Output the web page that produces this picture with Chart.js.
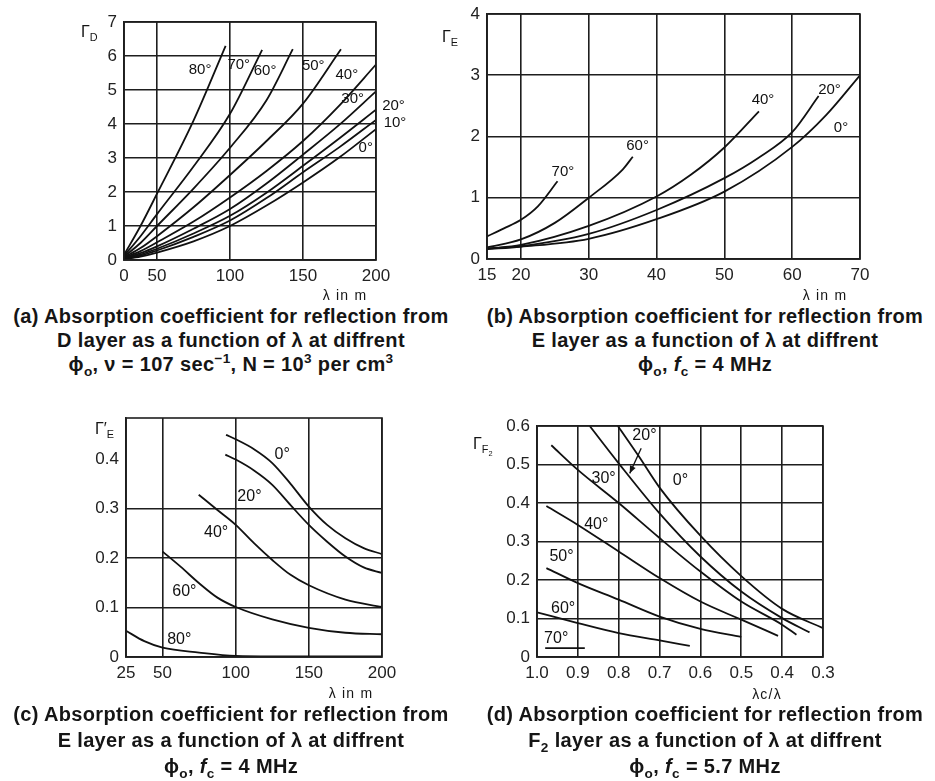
<!DOCTYPE html>
<html>
<head>
<meta charset="utf-8">
<script src="https://cdn.jsdelivr.net/npm/chart.js@4.4.0/dist/chart.umd.min.js"></script>
<style>
  body { margin: 0; background: #fff; width: 935px; height: 781px; position: relative; overflow: hidden;
         font-family: "Liberation Sans", Arial, sans-serif; color: #151515; }
  canvas { position: absolute; }
  .cap { position: absolute; width: 500px; text-align: center; font-weight: bold; font-size: 20px;
         letter-spacing: 0.35px; white-space: nowrap; }
  .top { top: 304px; line-height: 24px; }
  .bot { top: 701px; line-height: 26px; }
  .lab { position: absolute; white-space: nowrap; line-height: 16px; }
  .gam { font-size: 16px; }
  .xt { font-size: 14px; letter-spacing: 1.2px; transform: translateX(-50%); }
  sub, sup { font-size: 68%; line-height: 0; }
</style>
</head>
<body>
<canvas id="pa"></canvas>
<canvas id="pb"></canvas>
<canvas id="pc"></canvas>
<canvas id="pd"></canvas>

<div class="lab gam" style="left:81px;top:24px">Γ<sub>D</sub></div>
<div class="lab gam" style="left:442px;top:29px">Γ<sub>E</sub></div>
<div class="lab gam" style="left:95px;top:421px">Γ′<sub>E</sub></div>
<div class="lab gam" style="left:473px;top:436px">Γ<sub>F<sub>2</sub></sub></div>

<div class="lab xt" style="left:345px;top:287px">λ in m</div>
<div class="lab xt" style="left:825px;top:287px">λ in m</div>
<div class="lab xt" style="left:351px;top:685px">λ in m</div>
<div class="lab xt" style="left:767px;top:686px">λc/λ</div>

<div class="cap top" style="left:-19px">(a) Absorption coefficient for reflection from<br>D layer as a function of λ at diffrent<br>ϕ<sub>o</sub>, ν = 107 sec<sup>−1</sup>, N = 10<sup>3</sup> per cm<sup>3</sup></div>
<div class="cap top" style="left:455px">(b) Absorption coefficient for reflection from<br>E layer as a function of λ at diffrent<br>ϕ<sub>o</sub>, <i>f</i><sub>c</sub> = 4 MHz</div>
<div class="cap bot" style="left:-19px">(c) Absorption coefficient for reflection from<br>E layer as a function of λ at diffrent<br>ϕ<sub>o</sub>, <i>f</i><sub>c</sub> = 4 MHz</div>
<div class="cap bot" style="left:455px">(d) Absorption coefficient for reflection from<br>F<sub>2</sub> layer as a function of λ at diffrent<br>ϕ<sub>o</sub>, <i>f</i><sub>c</sub> = 5.7 MHz</div>

<script>
// (a) D layer, Γ_D against λ (m) for each angle
const aTicksX = [0, 50, 100, 150, 200];
const aTicksY = [0, 1, 2, 3, 4, 5, 6, 7];
const a0  = [[0,0.02],[25,0.1],[50,0.22],[75,0.55],[100,1.0],[125,1.6],[150,2.28],[175,3.02],[200,3.85]];
const a10 = [[0,0.03],[25,0.13],[50,0.28],[75,0.68],[100,1.16],[125,1.82],[150,2.58],[175,3.32],[200,4.12]];
const a20 = [[0,0.04],[25,0.16],[50,0.33],[75,0.78],[100,1.3],[125,1.98],[150,2.77],[175,3.58],[200,4.42]];
const a30 = [[0,0.05],[25,0.2],[50,0.4],[75,0.92],[100,1.5],[125,2.25],[150,3.1],[175,3.98],[200,4.96]];
const a40 = [[0,0.07],[25,0.26],[50,0.52],[75,1.13],[100,1.84],[125,2.62],[150,3.5],[175,4.55],[200,5.75]];
const a50 = [[0,0.08],[25,0.35],[50,0.7],[75,1.55],[100,2.5],[125,3.5],[150,4.6],[176,6.2]];
const a60 = [[0,0.1],[25,0.5],[50,1.0],[75,2.1],[100,3.3],[125,4.7],[143,6.2]];
const a70 = [[0,0.12],[25,0.7],[50,1.35],[75,2.75],[100,4.3],[122,6.18]];
const a80 = [[0,0.15],[25,1.0],[50,1.95],[75,4.1],[97,6.3]];
const aLabels = [['80°',79.5,5.6],['70°',106,5.75],['60°',124,5.56],['50°',157,5.7],['40°',180,5.46],
                 ['30°',184,4.73],['20°',212,4.53],['10°',213,4.04],['0°',193,3.3]];

// (b) E layer, Γ_E against λ (m)
const bTicksX = [15, 20, 30, 40, 50, 60, 70];
const bTicksY = [0, 1, 2, 3, 4];
const b0  = [[15,0.16],[20,0.2],[30,0.33],[40,0.65],[50,1.1],[60,1.83],[65,2.35],[70,3.0]];
const b20 = [[15,0.17],[20,0.21],[30,0.41],[40,0.8],[50,1.32],[55,1.65],[60,2.07],[63.9,2.66]];
const b40 = [[15,0.17],[20,0.23],[30,0.54],[40,1.02],[45,1.37],[50,1.82],[55.1,2.41]];
const b60 = [[15,0.19],[20,0.32],[25,0.59],[30,1.0],[35,1.46],[36.5,1.67]];
const b70 = [[15,0.37],[17.5,0.5],[20,0.64],[22.5,0.86],[25.4,1.27]];
const bLabels = [['70°',26.2,1.43],['60°',37.2,1.84],['40°',55.7,2.6],['20°',65.5,2.76],['0°',67.2,2.14]];

// (c) E layer, Γ'_E against λ (m)
const cTicksX = [25, 50, 100, 150, 200];
const cTicksY = [0, 0.1, 0.2, 0.3, 0.4];
const c0  = [[93.4,0.449],[100,0.44],[112.5,0.42],[125,0.392],[137.5,0.35],[150,0.304],[162.5,0.267],[175,0.24],[187.5,0.22],[200,0.208]];
const c20 = [[92.9,0.409],[100,0.399],[112.5,0.377],[125,0.348],[137.5,0.307],[150,0.267],[162.5,0.233],[175,0.203],[187.5,0.181],[200,0.17]];
const c40 = [[74.7,0.328],[87.5,0.297],[100,0.267],[112.5,0.23],[125,0.196],[137.5,0.166],[150,0.145],[175,0.116],[200,0.101]];
const c60 = [[50,0.213],[62.5,0.182],[75,0.149],[87.5,0.12],[100,0.101],[125,0.076],[150,0.059],[175,0.049],[200,0.046]];
const c80 = [[25,0.053],[37.5,0.032],[50,0.019],[75,0.009],[100,0.002],[125,0.001],[200,0.001]];
const cLabels = [['0°',131.8,0.409],['20°',109.4,0.324],['40°',86.6,0.251],['60°',64.9,0.132],['80°',61.4,0.035]];

// (d) F2 layer, Γ_F2 against λc/λ (axis runs 1.0 -> 0.3)
const dTicksX = [1.0, 0.9, 0.8, 0.7, 0.6, 0.5, 0.4, 0.3];
const dTicksY = [0, 0.1, 0.2, 0.3, 0.4, 0.5, 0.6];
const d0  = [[0.802,0.6],[0.75,0.52],[0.7,0.44],[0.6,0.315],[0.5,0.21],[0.4,0.125],[0.3,0.075]];
const d20 = [[0.871,0.6],[0.8,0.503],[0.7,0.373],[0.6,0.261],[0.5,0.17],[0.4,0.101],[0.333,0.064]];
const d30 = [[0.965,0.55],[0.9,0.486],[0.8,0.4],[0.7,0.309],[0.6,0.222],[0.5,0.144],[0.4,0.084],[0.365,0.058]];
const d40 = [[0.977,0.392],[0.9,0.343],[0.8,0.274],[0.7,0.205],[0.6,0.144],[0.5,0.097],[0.41,0.055]];
const d50 = [[0.977,0.231],[0.9,0.192],[0.8,0.149],[0.7,0.105],[0.6,0.073],[0.5,0.052]];
const d60 = [[1.0,0.116],[0.9,0.088],[0.8,0.062],[0.7,0.043],[0.626,0.029]];
const d70 = [[0.98,0.023],[0.883,0.023]];
const dLabels = [['20°',0.737,0.576],['30°',0.837,0.464],['0°',0.649,0.458],['40°',0.855,0.343],
                 ['50°',0.94,0.261],['60°',0.936,0.127],['70°',0.953,0.049]];
const dArrow = [0.745,0.542,0.773,0.477];

const INK = '#111';
const GRID = '#1e1e1e';
const TICK = '#222';
const PAD = { l: 60, t: 15, r: 30, b: 40 };
Chart.defaults.font.family = '"Liberation Sans", Arial, sans-serif';

// x axis of (a) is squeezed between 0 and 50
class BrokenScale extends Chart.LinearScale {
  toDecimal(v) {
    const b = this.options.breakValue, f = this.options.breakFraction;
    if (v <= b) return (v - this.min) / (b - this.min) * f;
    return f + (v - b) / (this.max - b) * (1 - f);
  }
  getPixelForValue(v) {
    return v === null || v === undefined ? NaN : this.getPixelForDecimal(this.toDecimal(v));
  }
  getValueForPixel(p) {
    const d = this.getDecimalForPixel(p);
    const b = this.options.breakValue, f = this.options.breakFraction;
    if (d <= f) return this.min + d / f * (b - this.min);
    return b + (d - f) / (1 - f) * (this.max - b);
  }
}
BrokenScale.id = 'broken';
Chart.register(BrokenScale);

const decor = {
  id: 'decor',
  afterDatasetsDraw(chart, args, opts) {
    const { ctx, chartArea: a, scales: { x, y } } = chart;
    ctx.save();
    ctx.strokeStyle = GRID;
    ctx.lineWidth = 1.6;
    ctx.strokeRect(a.left, a.top, a.right - a.left, a.bottom - a.top);
    ctx.fillStyle = INK;
    ctx.font = opts.font;
    ctx.textAlign = 'center';
    ctx.textBaseline = 'middle';
    opts.labels.forEach(l => ctx.fillText(l[0], x.getPixelForValue(l[1]), y.getPixelForValue(l[2])));
    if (opts.arrow) {
      const x1 = x.getPixelForValue(opts.arrow[0]), y1 = y.getPixelForValue(opts.arrow[1]);
      const x2 = x.getPixelForValue(opts.arrow[2]), y2 = y.getPixelForValue(opts.arrow[3]);
      const ang = Math.atan2(y2 - y1, x2 - x1);
      ctx.strokeStyle = INK;
      ctx.lineWidth = 1.3;
      ctx.beginPath(); ctx.moveTo(x1, y1); ctx.lineTo(x2, y2); ctx.stroke();
      ctx.beginPath();
      ctx.moveTo(x2, y2);
      ctx.lineTo(x2 - 8 * Math.cos(ang - 0.4), y2 - 8 * Math.sin(ang - 0.4));
      ctx.lineTo(x2 - 8 * Math.cos(ang + 0.4), y2 - 8 * Math.sin(ang + 0.4));
      ctx.closePath(); ctx.fill();
    }
    ctx.restore();
  }
};

function axis(o, ticks, fmt, isX) {
  return Object.assign({
    type: 'linear',
    afterBuildTicks: s => { s.ticks = ticks.map(v => ({ value: v })); },
    afterFit: s => {
      if (isX) { s.height = PAD.b; s.paddingLeft = 0; s.paddingRight = 0; }
      else { s.width = PAD.l; s.paddingTop = 0; s.paddingBottom = 0; }
    },
    grid: {
      drawTicks: false, lineWidth: 1.6,
      color: c => (o.hide !== undefined && c.tick && Math.abs(c.tick.value - o.hide) < 1e-9) ? 'rgba(0,0,0,0)' : GRID
    },
    border: { color: GRID, width: 1.6 },
    ticks: { color: TICK, font: { size: 17 }, padding: isX ? 6 : 7, maxRotation: 0, autoSkip: false,
             callback: v => fmt(v) }
  }, o.scale);
}

function panel(id, area, xo, yo, series, labels, labelFont, arrow) {
  const cv = document.getElementById(id);
  cv.style.left = (area.l - PAD.l) + 'px';
  cv.style.top = (area.t - PAD.t) + 'px';
  cv.width = area.r - area.l + PAD.l + PAD.r;
  cv.height = area.b - area.t + PAD.t + PAD.b;
  new Chart(cv, {
    type: 'line',
    data: {
      datasets: series.map(s => ({
        data: s.map(p => ({ x: p[0], y: p[1] })),
        borderColor: INK, borderWidth: 1.8, pointRadius: 0, fill: false,
        cubicInterpolationMode: 'monotone'
      }))
    },
    options: {
      responsive: false,
      animation: false,
      events: [],
      layout: { padding: { left: 0, top: PAD.t, right: PAD.r, bottom: 0 } },
      plugins: {
        legend: { display: false },
        tooltip: { enabled: false },
        decor: { labels: labels, font: labelFont, arrow: arrow }
      },
      scales: {
        x: axis(xo, xo.ticks, xo.fmt, true),
        y: axis(yo, yo.ticks, yo.fmt, false)
      }
    },
    plugins: [decor]
  });
}

const plain = v => String(v);
const oneDec = v => v.toFixed(1);
const zeroOrDec = v => (v === 0 ? '0' : v.toFixed(1));

panel('pa', { l: 124, t: 22, r: 376, b: 260 },
  { ticks: aTicksX, fmt: plain, scale: { type: 'broken', min: 0, max: 200, breakValue: 50, breakFraction: 0.131 } },
  { ticks: aTicksY, fmt: plain, scale: { min: 0, max: 7 } },
  [a80, a70, a60, a50, a40, a30, a20, a10, a0], aLabels, '15px "Liberation Sans", Arial, sans-serif');

panel('pb', { l: 487, t: 14, r: 860, b: 259 },
  { ticks: bTicksX, fmt: plain, scale: { min: 15, max: 70 } },
  { ticks: bTicksY, fmt: plain, scale: { min: 0, max: 4 } },
  [b70, b60, b40, b20, b0], bLabels, '15px "Liberation Sans", Arial, sans-serif');

panel('pc', { l: 126, t: 418, r: 382, b: 657 },
  { ticks: cTicksX, fmt: plain, scale: { min: 25, max: 200 } },
  { ticks: cTicksY, fmt: zeroOrDec, hide: 0.4, scale: { min: 0, max: 0.483 } },
  [c0, c20, c40, c60, c80], cLabels, '16px "Liberation Sans", Arial, sans-serif');

panel('pd', { l: 537, t: 426, r: 823, b: 657 },
  { ticks: dTicksX, fmt: oneDec, scale: { min: 0.3, max: 1.0, reverse: true } },
  { ticks: dTicksY, fmt: zeroOrDec, scale: { min: 0, max: 0.6 } },
  [d0, d20, d30, d40, d50, d60, d70], dLabels, '16px "Liberation Sans", Arial, sans-serif', dArrow);
</script>
</body>
</html>
